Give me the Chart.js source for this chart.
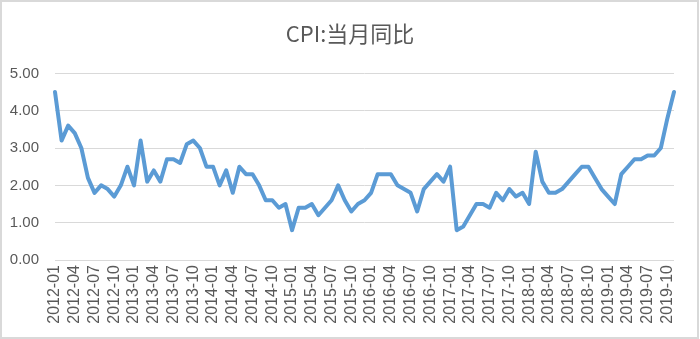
<!DOCTYPE html>
<html>
<head>
<meta charset="utf-8">
<script src="https://cdn.jsdelivr.net/npm/chart.js@4/dist/chart.umd.min.js"></script>
<style>
  html, body { margin: 0; padding: 0; background: #ffffff; }
  #wrap { position: relative; width: 700px; height: 339px; }
  #frame { position: absolute; left: 0; top: 0; width: 695px; height: 335px; border: 2px solid #d9d9d9; pointer-events: none; }
</style>
</head>
<body>
<div id="wrap">
  <canvas id="c" width="700" height="339"></canvas>
  <div id="frame"></div>
</div>
<script>
const title = "CPI:当月同比";
const years = ["2012", "2013", "2014", "2015", "2016", "2017", "2018", "2019"];
const months = ["01", "02", "03", "04", "05", "06", "07", "08", "09", "10", "11", "12"];
const cpi2012 = [4.5, 3.2, 3.6, 3.4, 3.0, 2.2, 1.8, 2.0, 1.9, 1.7, 2.0, 2.5];
const cpi2013 = [2.0, 3.2, 2.1, 2.4, 2.1, 2.7, 2.7, 2.6, 3.1, 3.2, 3.0, 2.5];
const cpi2014 = [2.5, 2.0, 2.4, 1.8, 2.5, 2.3, 2.3, 2.0, 1.6, 1.6, 1.4, 1.5];
const cpi2015 = [0.8, 1.4, 1.4, 1.5, 1.2, 1.4, 1.6, 2.0, 1.6, 1.3, 1.5, 1.6];
const cpi2016 = [1.8, 2.3, 2.3, 2.3, 2.0, 1.9, 1.8, 1.3, 1.9, 2.1, 2.3, 2.1];
const cpi2017 = [2.5, 0.8, 0.9, 1.2, 1.5, 1.5, 1.4, 1.8, 1.6, 1.9, 1.7, 1.8];
const cpi2018 = [1.5, 2.9, 2.1, 1.8, 1.8, 1.9, 2.1, 2.3, 2.5, 2.5, 2.2, 1.9];
const cpi2019 = [1.7, 1.5, 2.3, 2.5, 2.7, 2.7, 2.8, 2.8, 3.0, 3.8, 4.5];
const yTicks = [0, 1, 2, 3, 4, 5];

const series = [cpi2012, cpi2013, cpi2014, cpi2015, cpi2016, cpi2017, cpi2018, cpi2019];
const labels = [];
const values = [];
series.forEach((arr, yi) => {
  arr.forEach((v, mi) => {
    labels.push(years[yi] + "-" + months[mi]);
    values.push(v);
  });
});

const textColor = "#595959";
const gridColor = "#d9d9d9";

new Chart(document.getElementById("c"), {
  type: "line",
  data: {
    labels: labels,
    datasets: [{
      data: values,
      borderColor: "#5b9bd5",
      borderWidth: 4,
      pointRadius: 0,
      tension: 0,
      fill: false,
      borderJoinStyle: "round",
      borderCapStyle: "round"
    }]
  },
  options: {
    responsive: false,
    animation: false,
    layout: { padding: { left: 9, right: 9, top: 0, bottom: 0 } },
    plugins: {
      legend: { display: false },
      tooltip: { enabled: false },
      title: {
        display: true,
        text: title,
        color: textColor,
        font: { family: "'Noto Sans CJK SC', 'Noto Sans', sans-serif", size: 22, weight: "normal" },
        padding: { top: 20, bottom: 27 }
      }
    },
    scales: {
      x: {
        offset: false,
        grid: { display: false, drawTicks: false },
        border: { display: false },
        afterFit: function (axis) { axis.height = 79; axis.paddingLeft = 0; axis.paddingRight = 26; },
        ticks: {
          autoSkip: false,
          maxRotation: 90,
          minRotation: 90,
          padding: 5,
          color: textColor,
          font: { family: "'Liberation Sans', Arial, sans-serif", size: 16 },
          callback: function (val, idx) { return idx % 3 === 0 ? labels[idx] : null; }
        }
      },
      y: {
        min: yTicks[0],
        max: yTicks[yTicks.length - 1],
        grid: { color: gridColor, lineWidth: 1, drawTicks: false },
        border: { display: false },
        afterBuildTicks: function (axis) { axis.ticks = yTicks.map(v => ({ value: v })); },
        afterFit: function (axis) { axis.width = 46; },
        ticks: {
          padding: 16,
          color: textColor,
          font: { family: "'Liberation Sans', Arial, sans-serif", size: 15 },
          callback: function (v) { return Number(v).toFixed(2); }
        }
      }
    }
  }
});
</script>
</body>
</html>
